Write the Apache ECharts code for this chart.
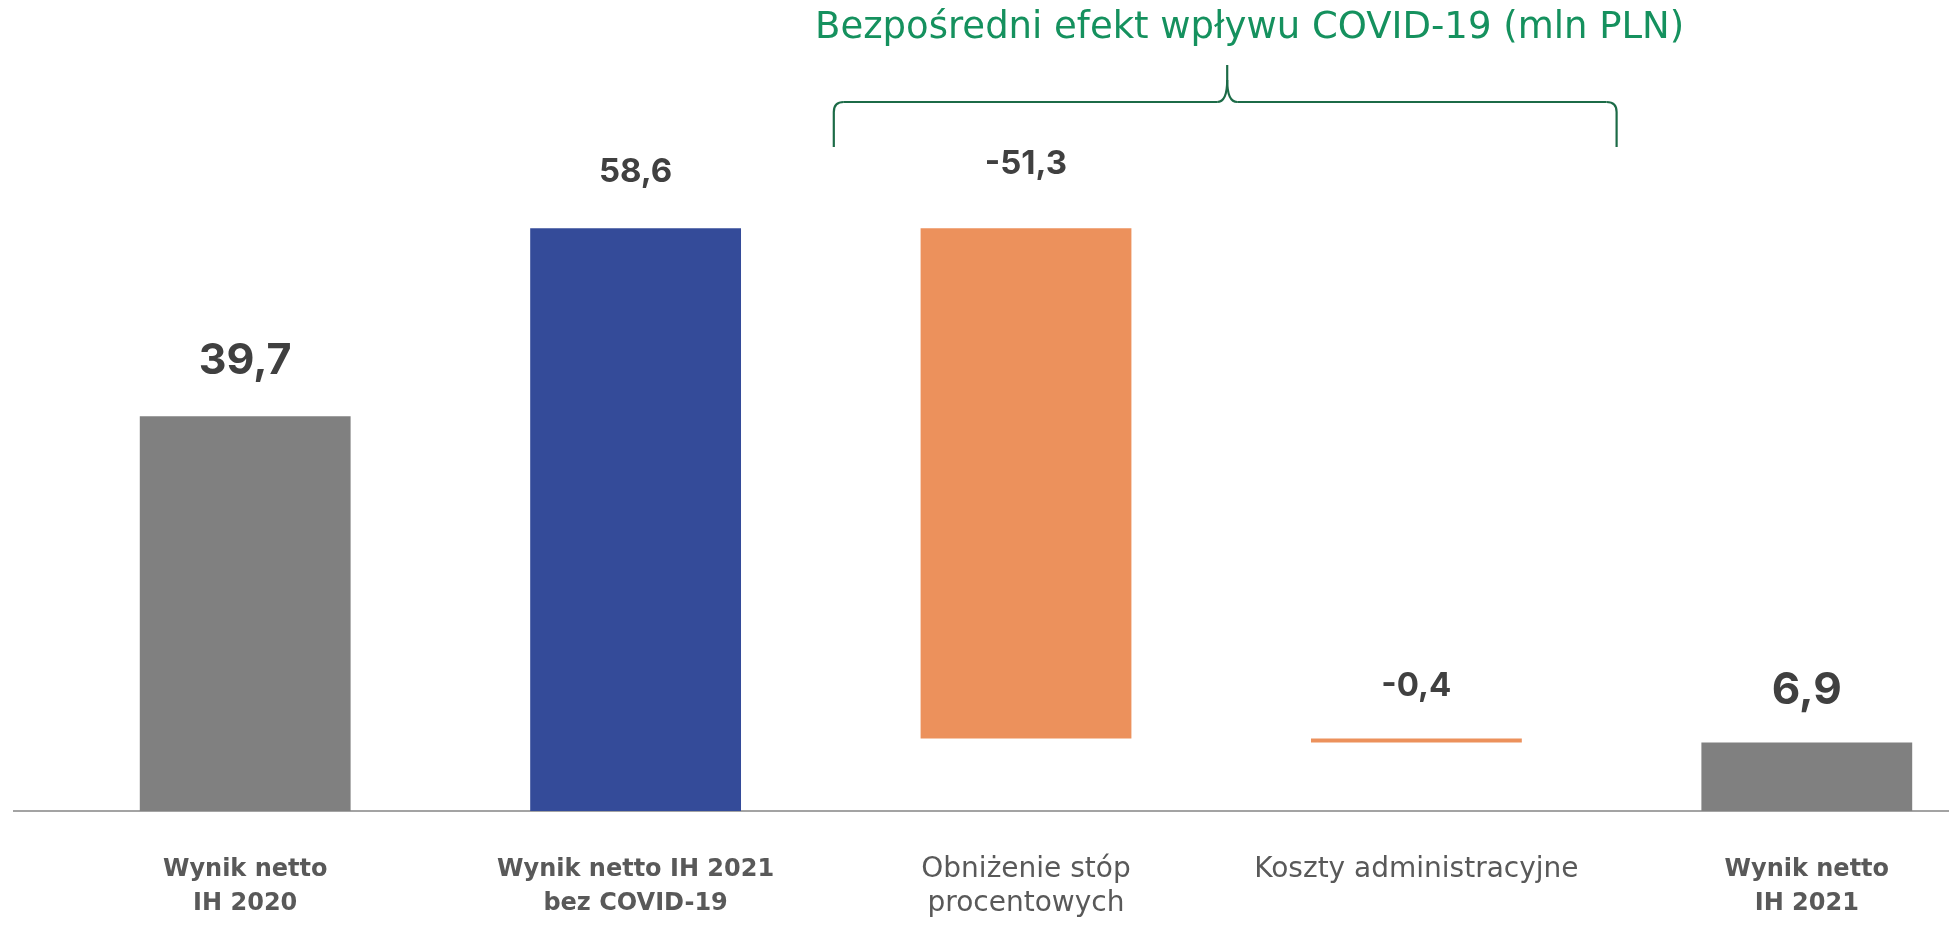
<!DOCTYPE html>
<html>
<head>
<meta charset="utf-8">
<script src="https://cdn.jsdelivr.net/npm/echarts@6/dist/echarts.min.js"></script>
<style>
html,body{margin:0;padding:0;background:#fff;}
#c{width:1949px;height:935px;}
</style>
</head>
<body>
<div id="c"></div>
<script>
var categories = ['Wynik netto\nIH 2020', 'Wynik netto IH 2021\nbez COVID-19', 'Obniżenie stóp\nprocentowych', 'Koszty administracyjne', 'Wynik netto\nIH 2021'];
var values = [39.7, 58.6, -51.3, -0.4, 6.9];
var kinds = ['total', 'total', 'delta', 'delta', 'total'];
var titleText = 'Bezpośredni efekt wpływu COVID-19 (mln PLN)';

var barColors = ['#808080', '#344b99', '#ec915c', '#ec915c', '#808080'];
var labelSizes = [43, 33, 33, 33, 44];
var labelDist = [34, 40, 48, 36, 30];
var FONT = 'Inter, "Noto Sans", sans-serif';
var CATFONT = '"DejaVu Sans", sans-serif';

// waterfall computation
var bases = [], heights = [], running = 0;
for (var i = 0; i < values.length; i++) {
  if (kinds[i] === 'total') {
    bases.push(0); heights.push(values[i]); running = values[i];
  } else {
    var next = running + values[i];
    bases.push(Math.min(running, next));
    heights.push(Math.abs(values[i]));
    running = next;
  }
}
function fmt(v) { return String(v).replace('.', ','); }

var chart = echarts.init(document.getElementById('c'));
var option = {
  animation: false,
  grid: { left: 50, top: 115, width: 1952, height: 696, containLabel: false, outerBoundsMode: 'none' },
  title: {
    text: titleText, left: 810, top: 5,
    textStyle: { color: '#15915e', fontSize: 37, fontWeight: 'normal', fontFamily: CATFONT }
  },
  xAxis: {
    type: 'category', data: categories,
    axisLine: { show: false }, axisTick: { show: false },
    axisLabel: {
      interval: 0, margin: 42,
      formatter: function (v, idx) {
        var tag = kinds[idx] === 'total' ? 'b' : 'r';
        return v.split('\n').map(function (l) { return '{' + tag + '|' + l + '}'; }).join('\n');
      },
      rich: {
        b: { fontFamily: CATFONT, fontSize: 24, fontWeight: 'bold', color: '#595959', lineHeight: 34 },
        r: { fontFamily: CATFONT, fontSize: 28, fontWeight: 'normal', color: '#595959', lineHeight: 34 }
      }
    }
  },
  yAxis: { type: 'value', min: 0, max: 70, show: false, splitLine: { show: false } },
  series: [
    {
      type: 'bar', stack: 'w', barWidth: '54%', silent: true,
      itemStyle: { color: 'transparent' },
      data: bases
    },
    {
      type: 'bar', stack: 'w', barWidth: '54%',
      data: heights.map(function (h, i) {
        return {
          value: h,
          itemStyle: { color: barColors[i] },
          label: {
            show: true, position: 'top', distance: labelDist[i],
            formatter: fmt(values[i]),
            fontFamily: FONT, fontWeight: 'bold', fontSize: labelSizes[i], color: '#404040'
          }
        };
      })
    }
  ]
};
chart.setOption(option);

// decorations: baseline and brace over the COVID-19 categories
var y0 = chart.convertToPixel({ yAxisIndex: 0 }, 0);
var c2 = chart.convertToPixel({ xAxisIndex: 0 }, 2);
var c3 = chart.convertToPixel({ xAxisIndex: 0 }, 3);
var bw = c3 - c2;
var L = c2 - bw / 2 + 3, R = c3 + bw / 2 + 5, M = (c2 + c3) / 2 + 6;
var yH = 102, yTop = 65, yEnd = 147;
var bs = { stroke: '#1c6b47', lineWidth: 2.2, fill: null };
function ln(x1, y1, x2, y2) { return { type: 'line', z: 5, shape: { x1: x1, y1: y1, x2: x2, y2: y2 }, style: bs }; }
function qc(x1, y1, cx, cy, x2, y2) { return { type: 'bezierCurve', z: 5, shape: { x1: x1, y1: y1, cpx1: cx, cpy1: cy, x2: x2, y2: y2 }, style: bs }; }
chart.setOption({
  graphic: [
    { type: 'line', z: 0, shape: { x1: 13, y1: y0, x2: 1949, y2: y0 }, style: { stroke: '#a3a3a3', lineWidth: 2 } },
    ln(L, yEnd, L, yH + 10),
    qc(L, yH + 10, L, yH, L + 10, yH),
    ln(L + 10, yH, M - 10, yH),
    qc(M - 10, yH, M, yH, M, yH - 22),
    ln(M, yH - 22, M, yTop),
    qc(M, yH - 22, M, yH, M + 10, yH),
    ln(M + 10, yH, R - 10, yH),
    qc(R - 10, yH, R, yH, R, yH + 10),
    ln(R, yH + 10, R, yEnd)
  ]
});
</script>
</body>
</html>
